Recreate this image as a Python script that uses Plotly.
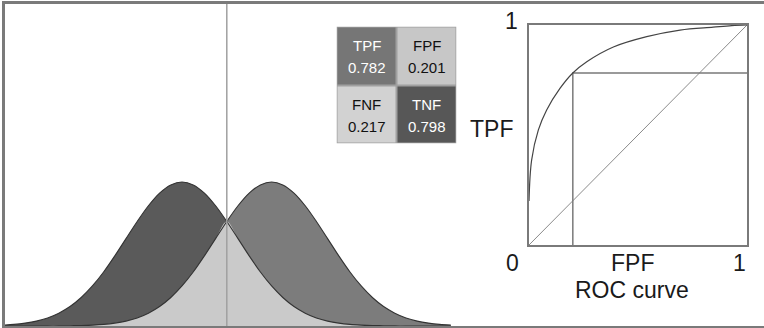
import plotly.graph_objects as go

W, H = 764, 328

# decision variable grid (in units of SD) and the two class distributions (peak = 1)
x_vals = [-3.2, -3.0, -2.8, -2.6, -2.4, -2.2, -2.0, -1.8, -1.6, -1.4, -1.2, -1.0, -0.8, -0.6,
          -0.4, -0.2, 0.0, 0.2, 0.4, 0.6, 0.8, 1.0, 1.2, 1.4, 1.6, 1.8, 2.0, 2.2, 2.4, 2.6,
          2.8, 3.0, 3.2, 3.4, 3.6, 3.8, 4.0, 4.2, 4.4, 4.6, 4.8]
negatives = [0.006, 0.011, 0.020, 0.034, 0.056, 0.089, 0.135, 0.198, 0.278, 0.375, 0.487,
             0.607, 0.726, 0.835, 0.923, 0.980, 1.000, 0.980, 0.923, 0.835, 0.726, 0.607,
             0.487, 0.375, 0.278, 0.198, 0.135, 0.089, 0.056, 0.034, 0.020, 0.011, 0.006,
             0.003, 0.002, 0.001, 0.0, 0.0, 0.0, 0.0, 0.0]
positives = [0.0, 0.0, 0.0, 0.0, 0.0, 0.001, 0.002, 0.003, 0.006, 0.011, 0.020, 0.034,
             0.056, 0.089, 0.135, 0.198, 0.278, 0.375, 0.487, 0.607, 0.726, 0.835, 0.923,
             0.980, 1.000, 0.980, 0.923, 0.835, 0.726, 0.607, 0.487, 0.375, 0.278, 0.198,
             0.135, 0.089, 0.056, 0.034, 0.020, 0.011, 0.006]
threshold = 0.8

# 2x2 decision matrix
cell_labels = [["TPF", "FPF"], ["FNF", "TNF"]]
cell_values = [["0.782", "0.201"], ["0.217", "0.798"]]
cell_colors = [["#767676", "#c7c7c7"], ["#d2d2d2", "#575757"]]
cell_text = [["white", "#111"], ["#111", "white"]]

# ROC curve
roc_fpf = [0.0, 0.012, 0.043, 0.081, 0.142, 0.201, 0.265, 0.387, 0.54, 0.693, 0.845, 0.93, 1.0]
roc_tpf = [0.2, 0.386, 0.523, 0.614, 0.712, 0.782, 0.833, 0.90, 0.947, 0.977, 0.99, 0.997, 1.0]
op_fpf, op_tpf = 0.201, 0.782

FONT = "Liberation Sans, Arial, sans-serif"
overlap = [min(a, b) for a, b in zip(negatives, positives)]


def px(v):
    return v / W


def py(v):
    return 1 - v / H


fig = go.Figure()

# distributions
fig.add_trace(go.Scatter(x=x_vals, y=negatives, fill="tozeroy", fillcolor="#5a5a5a",
                         line=dict(width=0), line_shape="spline", mode="lines"))
fig.add_trace(go.Scatter(x=x_vals, y=positives, fill="tozeroy", fillcolor="#7c7c7c",
                         line=dict(width=0), line_shape="spline", mode="lines"))
fig.add_trace(go.Scatter(x=x_vals, y=overlap, fill="tozeroy", fillcolor="#cacaca",
                         line=dict(width=0), line_shape="spline", mode="lines"))
for ys in (negatives, positives):
    fig.add_trace(go.Scatter(x=x_vals, y=ys, mode="lines", line_shape="spline",
                             line=dict(color="#333", width=1.1)))
y_top = (326 - 4) / 144
fig.add_trace(go.Scatter(x=[threshold, threshold], y=[0, y_top], mode="lines",
                         line=dict(color="#a0a0a0", width=1.5)))

# decision matrix
z_idx = [[0, 1], [2, 3]]
flat = [c for row in cell_colors for c in row]
fig.add_trace(go.Heatmap(
    z=z_idx, x=[0, 1], y=[0, 1], xaxis="x3", yaxis="y3", zmin=0, zmax=3,
    colorscale=[[i / 3, c] for i, c in enumerate(flat)], showscale=False,
    xgap=2, ygap=2, hoverinfo="skip"))

# ROC
fig.add_trace(go.Scatter(x=[0, 1], y=[0, 1], mode="lines", xaxis="x2", yaxis="y2",
                         line=dict(color="#8a8a8a", width=1)))
fig.add_trace(go.Scatter(x=[op_fpf, op_fpf, 1], y=[0, op_tpf, op_tpf], mode="lines",
                         xaxis="x2", yaxis="y2", line=dict(color="#7a7a7a", width=1.5)))
fig.add_trace(go.Scatter(x=roc_fpf, y=roc_tpf, mode="lines", line_shape="spline",
                         xaxis="x2", yaxis="y2", line=dict(color="#444", width=1.2)))

sd = 56
fig.update_layout(
    width=W, height=H, margin=dict(l=0, r=0, t=0, b=0),
    paper_bgcolor="white", plot_bgcolor="white", showlegend=False,
    xaxis=dict(domain=[px(5), 1], range=[(5 - 182) / sd, (764 - 182) / sd],
               showgrid=False, zeroline=False, showticklabels=False,
               showline=True, mirror=True, linecolor="#7a7a7a", linewidth=2.5),
    yaxis=dict(domain=[py(326), py(4)], range=[0, y_top], showgrid=False, zeroline=False,
               showticklabels=False, showline=True, linecolor="#7a7a7a", linewidth=2.5),
    xaxis2=dict(domain=[px(529), px(747)], range=[0, 1], anchor="y2", showgrid=False,
                zeroline=False, showticklabels=False, showline=True, mirror=True,
                linecolor="#7a7a7a", linewidth=2),
    yaxis2=dict(domain=[py(245), py(25)], range=[0, 1], anchor="x2", showgrid=False,
                zeroline=False, showticklabels=False, showline=True, mirror=True,
                linecolor="#7a7a7a", linewidth=2),
    xaxis3=dict(domain=[px(336.5), px(456.5)], range=[-0.5, 1.5], anchor="y3",
                showgrid=False, zeroline=False, showticklabels=False),
    yaxis3=dict(domain=[py(143.5), py(26.5)], range=[1.5, -0.5], anchor="x3",
                showgrid=False, zeroline=False, showticklabels=False),
)
fig.update_traces(hoverinfo="skip", selector=dict(type="scatter"))

fig.add_shape(type="rect", xref="x3", yref="y3", x0=-0.5, x1=1.5, y0=-0.5, y1=1.5,
              fillcolor="#a0a0a0", line=dict(width=0), layer="below")

for r in range(2):
    for c in range(2):
        col = cell_text[r][c]
        fig.add_annotation(x=c, y=r, xref="x3", yref="y3", text=cell_labels[r][c],
                           showarrow=False, yshift=10,
                           font=dict(family=FONT, size=15, color=col))
        fig.add_annotation(x=c, y=r, xref="x3", yref="y3", text=cell_values[r][c],
                           showarrow=False, yshift=-12,
                           font=dict(family=FONT, size=15, color=col))

big = dict(family=FONT, size=23, color="#1a1a1a")
labels = [("1", 511, 21), ("TPF", 492, 129), ("0", 512, 263), ("FPF", 632, 263),
          ("1", 739, 263), ("ROC curve", 632, 290)]
for txt, lx, ly in labels:
    fig.add_annotation(x=px(lx), y=py(ly), xref="paper", yref="paper", text=txt,
                       showarrow=False, font=big, xanchor="center", yanchor="middle")

# drop the browser's default body margin so the figure sits at the page corner
fig.write_html("out.html", config={"displayModeBar": False},
               post_script="document.body.style.margin='0';")
